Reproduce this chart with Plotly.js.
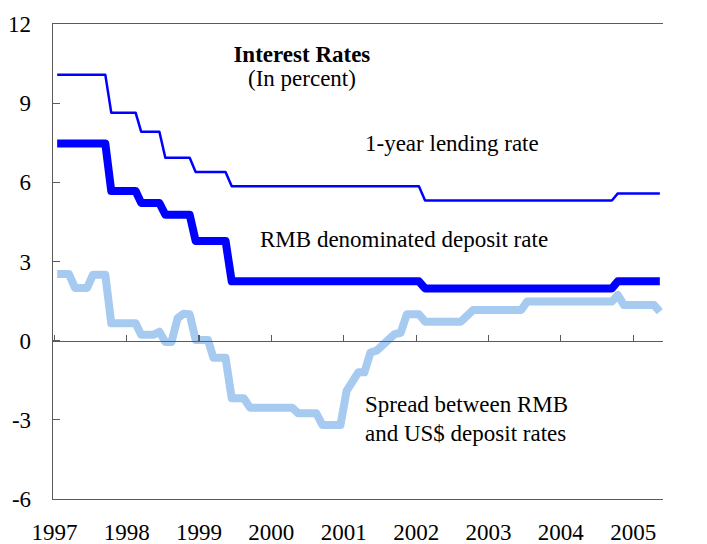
<!DOCTYPE html>
<html>
<head>
<meta charset="utf-8">
<script src="https://cdn.plot.ly/plotly-3.0.1.min.js"></script>
<style>html,body{margin:0;padding:0;background:#fff;}#chart{width:707px;height:544px;}
.scatterlayer .js-line{stroke-linejoin:round;}</style>
</head>
<body>
<div id="chart"></div>
<script>
// Change points (mid-month)
const lendingDates = ["1997-01-15","1997-09-15","1997-10-15","1998-02-15","1998-03-15","1998-06-15","1998-07-15","1998-11-15","1998-12-15","1999-05-15","1999-06-15","2002-01-15","2002-02-15","2004-09-15","2004-10-15","2005-05-15"];
const lendingRate = [10.08,10.08,8.64,8.64,7.92,7.92,6.93,6.93,6.39,6.39,5.85,5.85,5.31,5.31,5.58,5.58];

const depositDates = lendingDates;
const depositRate = [7.47,7.47,5.67,5.67,5.22,5.22,4.77,4.77,3.78,3.78,2.25,2.25,1.98,1.98,2.25,2.25];

const spreadDates = ["1997-01-15","1997-03-15","1997-04-15","1997-06-15","1997-07-15","1997-09-15","1997-10-15","1998-02-15","1998-03-15","1998-05-15","1998-06-15","1998-07-15","1998-08-15","1998-09-15","1998-10-15","1998-11-15","1998-12-15","1999-02-15","1999-03-15","1999-05-15","1999-06-15","1999-08-15","1999-09-15","2000-04-15","2000-05-15","2000-08-15","2000-09-15","2000-12-15","2001-01-15","2001-02-15","2001-03-15","2001-04-15","2001-05-15","2001-06-15","2001-07-15","2001-08-15","2001-09-15","2001-10-15","2001-11-15","2002-01-15","2002-02-15","2002-08-15","2002-09-15","2002-10-15","2003-06-15","2003-07-15","2004-09-15","2004-10-15","2004-11-15","2005-04-15","2005-05-15"];
const spreadRate = [2.53,2.53,2.0,2.0,2.5,2.5,0.66,0.66,0.22,0.22,0.34,-0.05,-0.05,0.85,1.02,1.0,0.03,0.03,-0.65,-0.65,-2.18,-2.18,-2.54,-2.54,-2.75,-2.75,-3.2,-3.2,-1.9,-1.55,-1.2,-1.2,-0.45,-0.38,-0.15,0.05,0.25,0.3,1.0,1.0,0.72,0.72,0.95,1.16,1.16,1.48,1.48,1.73,1.35,1.35,1.1];

const yTicks = [-6,-3,0,3,6,9,12];
const yTickText = ["-6","-3","0","3","6","9","12"];

const FONT = "Liberation Serif, Times New Roman, serif";
const AXC = "#5a5a5a";
const xRange = ["1996-12-25","2005-05-31"];

const traces = [
  {x: spreadDates, y: spreadRate, type: "scatter", mode: "lines", xaxis: "x2", yaxis: "y",
   line: {color: "#a6caf0", width: 8}, hoverinfo: "skip"},
  {x: depositDates, y: depositRate, type: "scatter", mode: "lines",
   line: {color: "#0000ff", width: 8}, hoverinfo: "skip"},
  {x: lendingDates, y: lendingRate, type: "scatter", mode: "lines",
   line: {color: "#0000ff", width: 2.5}, hoverinfo: "skip"}
];

const layout = {
  width: 707, height: 544,
  margin: {l: 53, r: 44, t: 24, b: 45},
  paper_bgcolor: "#fff", plot_bgcolor: "#fff",
  showlegend: false,
  font: {family: FONT, size: 23, color: "#000"},
  title: {text: "<b>Interest Rates</b>", font: {family: FONT, size: 23, color: "#000"},
          xref: "paper", x: 0.408, xanchor: "center", yref: "container", y: 0.9, yanchor: "middle"},
  xaxis: {type: "date", range: xRange, tick0: "1997-01-01", dtick: "M12", tickformat: "%Y",
          ticks: "", showgrid: false, zeroline: false, showline: true, mirror: true,
          linecolor: AXC, linewidth: 1.3, ticklabelstandoff: 12,
          tickfont: {family: FONT, size: 23, color: "#000"}, fixedrange: true},
  xaxis2: {type: "date", range: xRange, tick0: "1997-01-01", dtick: "M12", overlaying: "x",
           anchor: "free", position: 1/3, side: "top", ticks: "outside", ticklen: 6, tickcolor: AXC,
           tickwidth: 1.3, showticklabels: false, showgrid: false, zeroline: false, showline: true,
           linecolor: AXC, linewidth: 1.3},
  yaxis: {range: [-6, 12], tickvals: yTicks, ticktext: yTickText, ticks: "inside", ticklen: 7, tickcolor: AXC, tickwidth: 1.3,
          showgrid: false, zeroline: false, showline: true, linecolor: AXC, linewidth: 1.3,
          ticklabelstandoff: 16, tickfont: {family: FONT, size: 23, color: "#000"}},
  yaxis2: {range: [-6, 12], tickvals: yTicks, ticktext: yTickText, overlaying: "y", side: "right", anchor: "x",
           ticks: "inside", ticklen: 7, tickcolor: AXC, tickwidth: 1.3,
           showgrid: false, zeroline: false, showline: true, linecolor: AXC, linewidth: 1.3,
           ticklabelstandoff: 10, tickfont: {family: FONT, size: 23, color: "#000"}},
  annotations: [
    {text: "(In percent)", xref: "paper", yref: "paper", x: 0.408, y: 0.886, showarrow: false,
     xanchor: "center", yanchor: "middle", font: {family: FONT, size: 23, color: "#000"}},
    {text: "1-year lending rate", xref: "paper", yref: "paper", x: 0.654, y: 0.749, showarrow: false,
     xanchor: "center", yanchor: "middle", font: {family: FONT, size: 23, color: "#000"}},
    {text: "RMB denominated deposit rate", xref: "paper", yref: "paper", x: 0.576, y: 0.547, showarrow: false,
     xanchor: "center", yanchor: "middle", font: {family: FONT, size: 23, color: "#000"}},
    {text: "Spread between RMB", xref: "paper", yref: "paper", x: 0.508, y: 0.2, showarrow: false,
     xanchor: "left", yanchor: "middle", font: {family: FONT, size: 23, color: "#000"}},
    {text: "and US$ deposit rates", xref: "paper", yref: "paper", x: 0.508, y: 0.137, showarrow: false,
     xanchor: "left", yanchor: "middle", font: {family: FONT, size: 23, color: "#000"}}
  ]
};

Plotly.newPlot("chart", traces, layout, {staticPlot: true, displayModeBar: false});
</script>
</body>
</html>
